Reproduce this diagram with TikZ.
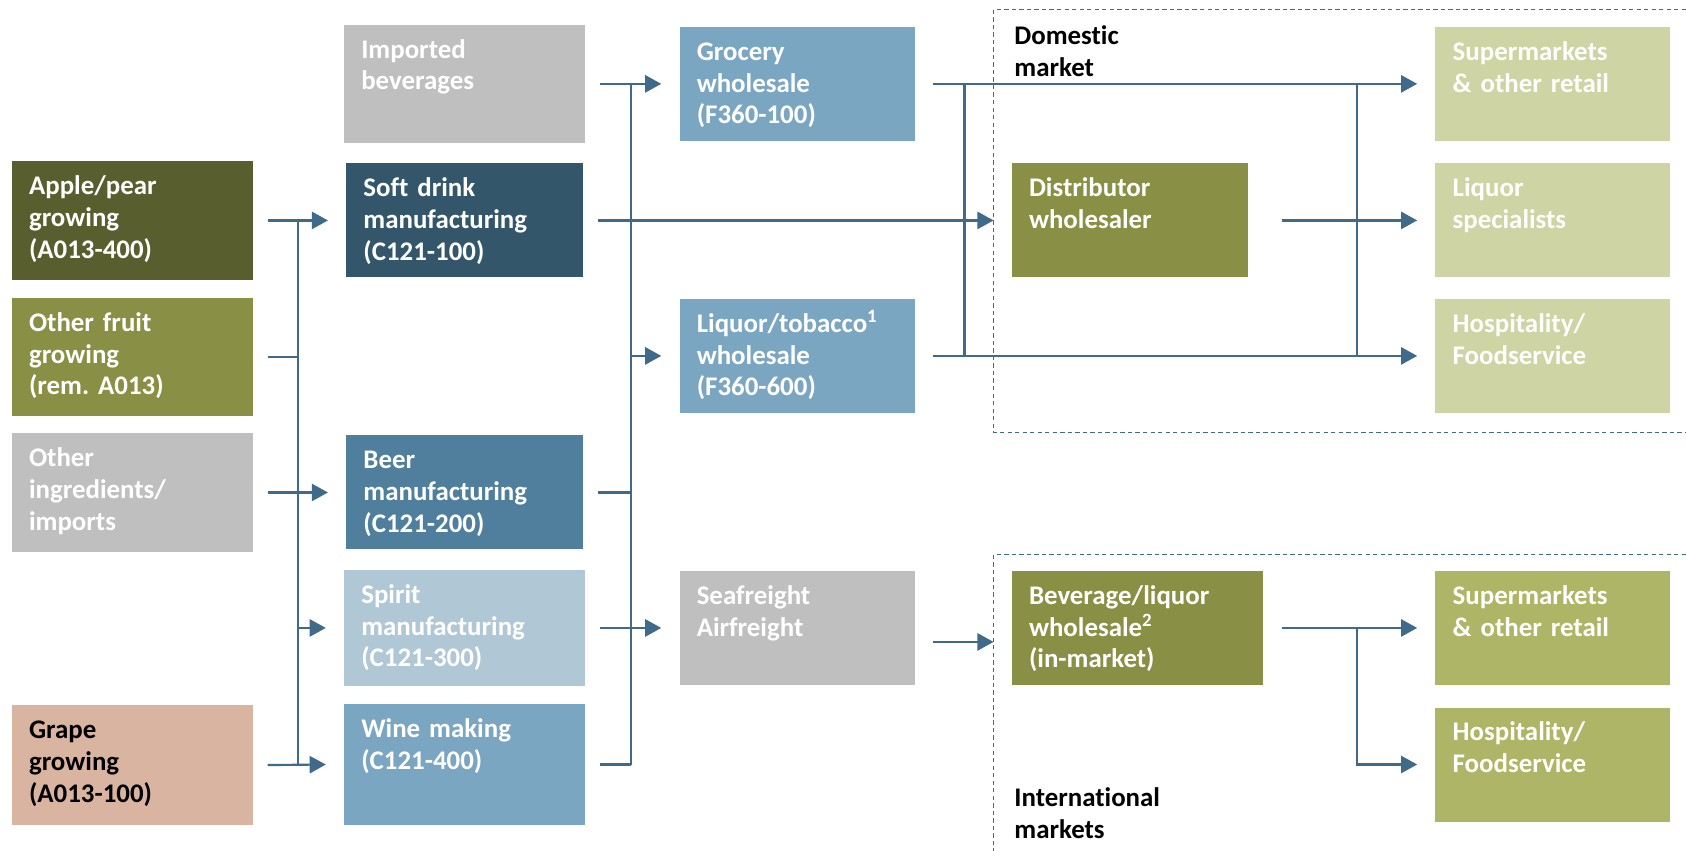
\documentclass[tikz,border=0pt]{standalone}
\usepackage{fontspec}
\setmainfont{Carlito}[Ligatures=NoCommon]
\usepackage{tikz}
\usetikzlibrary{arrows.meta}
\frenchspacing

\begin{document}
\begin{tikzpicture}[x=0.5pt,y=0.5pt,yscale=-1,xscale=1,
  box/.style 2 args={anchor=north west, inner xsep=8pt, inner ysep=0pt, outer sep=0pt,
    align=left, text width=#1, text height=15.5pt, text depth=#2, text=white,
    font=\fontsize{12.5}{14.8}\selectfont\bfseries},
  tag/.style={anchor=north west, inner sep=0pt, align=left, text width=90pt,
    text height=15.5pt, font=\fontsize{12.5}{14.8}\selectfont\bfseries},
  darkolive/.style={fill={rgb, 255:red, 89; green, 94; blue, 46}},
  olive/.style={fill={rgb, 255:red, 137; green, 143; blue, 69}},
  grey/.style={fill={rgb, 255:red, 191; green, 191; blue, 191}},
  grape/.style={fill={rgb, 255:red, 217; green, 180; blue, 161}, text=black},
  navy/.style={fill={rgb, 255:red, 52; green, 86; blue, 107}},
  steel/.style={fill={rgb, 255:red, 80; green, 126; blue, 157}},
  pale/.style={fill={rgb, 255:red, 176; green, 200; blue, 214}},
  sky/.style={fill={rgb, 255:red, 123; green, 166; blue, 193}},
  lime/.style={fill={rgb, 255:red, 206; green, 212; blue, 164}},
  moss/.style={fill={rgb, 255:red, 175; green, 181; blue, 102}},
  flow/.style={draw={rgb, 255:red, 64; green, 106; blue, 138}, line width=1pt},
  arr/.style={flow, -{Triangle[length=7.5pt,width=8pt]}},
  frame/.style={draw={rgb, 255:red, 64; green, 106; blue, 138}, line width=0.5pt, dash pattern=on 2pt off 1.5pt}
]
\useasboundingbox (0,0) rectangle (1568,791);

%Dashed frames
\coordinate (dom) at (924,9);
\coordinate (intl) at (924,516);
\draw [frame] (1568,9) -| (924,402) -- (1568,402);
\draw [frame] (1568,516) -| (924,791);

% Growing
\node [box={96pt}{39.5pt}, darkolive] (apple) at (11,150) {Apple/pear\\growing\\(A013-400)};
\node [box={96pt}{39.5pt}, olive] (fruit) at (11,277) {Other fruit\\growing\\(rem. A013)};
\node [box={96pt}{39.5pt}, grey] (ingr) at (11,403) {Other\\ingredients/\\imports};
\node [box={96pt}{40pt}, grape] (grapes) at (11,656) {Grape\\growing\\(A013-100)};

% Manufacturing
\node [box={96pt}{39.5pt}, grey] (imported) at (320,23) {Imported\\beverages};
\node [box={94pt}{37.5pt}, navy] (soft) at (322,152) {Soft drink\\manufacturing\\(C121-100)};
\node [box={94pt}{37.5pt}, steel] (beer) at (322,405) {Beer\\manufacturing\\(C121-200)};
\node [box={96pt}{38.5pt}, pale] (spirit) at (320,530) {Spirit\\manufacturing\\(C121-300)};
\node [box={96pt}{40.5pt}, sky] (wine) at (320,655) {Wine making\\(C121-400)};

% Wholesale / freight
\node [box={93.5pt}{37.5pt}, sky] (grocery) at (632,25) {Grocery\\wholesale\\(F360-100)};
\node [box={93.5pt}{37.5pt}, sky] (liquor) at (632,278) {Liquor/tobacco\textsuperscript{1}\\wholesale\\(F360-600)};
\node [box={93.5pt}{37.5pt}, grey] (sea) at (632,531) {Seafreight\\Airfreight};

% Markets
\node [box={94pt}{37.5pt}, olive] (dist) at (941,152) {Distributor\\wholesaler};
\node [box={101pt}{37.5pt}, olive] (bev) at (941,531) {Beverage/liquor\\wholesale\textsuperscript{2}\\(in-market)};
\node [box={93pt}{37.5pt}, lime] (super) at (1335,25) {Supermarkets\\\& other retail};
\node [box={93pt}{37.5pt}, lime] (liqspec) at (1335,152) {Liquor\\specialists};
\node [box={93pt}{37.5pt}, lime] (hosp) at (1335,278) {Hospitality/\\Foodservice};
\node [box={93pt}{37.5pt}, moss] (isuper) at (1335,531) {Supermarkets\\\& other retail};
\node [box={93pt}{37.5pt}, moss] (ihosp) at (1335,658) {Hospitality/\\Foodservice};

% Text Node
\node [tag] (domlabel) at (943,10) {Domestic\\market};
% Text Node
\node [tag] (intllabel) at (943,719) {International\\markets};

%Straight Lines: growing to manufacturing
\coordinate (b1) at (277,0);
\draw [flow] (b1 |- apple.east) -- (b1 |- grapes.east);
\draw [arr] ([xshift=7pt]apple.east) -- ([xshift=-8.5pt]soft.west);
\draw [flow] ([xshift=7pt]fruit.east) -- (b1 |- fruit.east);
\draw [arr] ([xshift=7pt]ingr.east) -- ([xshift=-8.5pt]beer.west);
\draw [arr] (b1 |- spirit.west) -- ([xshift=-8.5pt]spirit.west);
\draw [arr] ([xshift=7pt]grapes.east) -- ([xshift=-8.5pt]wine.west);

%Straight Lines: manufacturing to wholesale
\coordinate (b2) at (587,0);
\draw [flow] (b2 |- imported.east) -- (b2 |- wine.east);
\draw [arr] ([xshift=7pt]imported.east) -- ([xshift=-8.5pt]grocery.west);
\draw [arr] ([xshift=7pt]soft.east) -- (dom |- soft.east);
\draw [flow] ([xshift=7pt]beer.east) -- (b2 |- beer.east);
\draw [arr] ([xshift=7pt]spirit.east) -- ([xshift=-8.5pt]sea.west);
\draw [flow] ([xshift=7pt]wine.east) -- (b2 |- wine.east);
\draw [arr] (b2 |- liquor.west) -- ([xshift=-8.5pt]liquor.west);

%Straight Lines: domestic market
\coordinate (b3) at (897,0);
\coordinate (b4) at (1262,0);
\draw [flow] (b3 |- grocery.east) -- (b3 |- liquor.east);
\draw [flow] (b4 |- super.west) -- (b4 |- hosp.west);
\draw [arr] ([xshift=8.5pt]grocery.east) -- ([xshift=-8.5pt]super.west);
\draw [arr] ([xshift=8.5pt]liquor.east) -- ([xshift=-8.5pt]hosp.west);
\draw [arr] ([xshift=15.5pt]dist.east) -- ([xshift=-8.5pt]liqspec.west);

%Straight Lines: international markets
\coordinate (seaout) at ([xshift=8.5pt,yshift=6.5pt]sea.east);
\draw [arr] (seaout) -- (intl |- seaout);
\draw [arr] ([xshift=8.5pt]bev.east) -- ([xshift=-8.5pt]isuper.west);
\draw [arr] (b4 |- isuper.west) |- ([xshift=-8.5pt]ihosp.west);

\end{tikzpicture}
\end{document}
